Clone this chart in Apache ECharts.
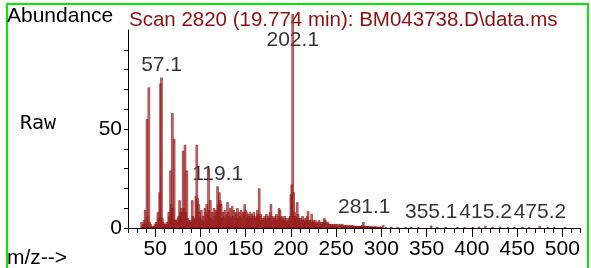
<!DOCTYPE html>
<html>
<head>
<meta charset="utf-8">
<script src="https://cdn.jsdelivr.net/npm/echarts@6/dist/echarts.min.js"></script>
<style>
    html, body { margin: 0; padding: 0; background: #fff; }
    #main { width: 591px; height: 268px; }
</style>
</head>
<body>
<div id="main"></div>
<script>
// m/z 35 .. 300, one abundance value per unit mass
const mzStart = 35;
const abundance = [
    3, 1, 2, 4, 9, 2, 55, 6, 71, 3,            // 35-44
    2, 0.5, 1, 0.5, 1, 2, 3, 2, 8, 5,          // 45-54
    18, 73, 76, 5, 3, 2, 2, 2, 3, 2,           // 55-64
    8, 6, 29, 12, 58, 10, 45, 4, 4, 3,         // 65-74
    5, 6, 14, 8, 10, 8, 39, 10, 42, 8,         // 75-84
    29, 5, 4, 3, 4, 3, 14, 6, 5, 4,            // 85-94
    16, 42, 15, 12, 8, 5, 9, 4, 6, 3,          // 95-104
    10, 8, 12, 7, 30, 9, 14, 5, 8, 4,          // 105-114
    10, 6, 9, 8, 21, 12, 18, 14, 12, 5,        // 115-124
    8, 6, 9, 5, 7, 13, 8, 6, 10, 5,            // 125-134
    11, 6, 9, 5, 8, 7, 10, 5, 8, 6,            // 135-144
    9, 5, 8, 7, 12, 9, 8, 5, 7, 6,             // 145-154
    8, 5, 7, 6, 8, 5, 6, 5, 9, 7,              // 155-164
    20, 6, 7, 4, 5, 4, 6, 5, 7, 4,             // 165-174
    6, 5, 8, 12, 6, 5, 4, 6, 5, 7,             // 175-184
    4, 6, 10, 9, 5, 6, 4, 5, 6, 4,             // 185-194
    5, 3, 4, 5, 6, 17, 22, 108, 18, 8,         // 195-204
    6, 5, 13, 7, 5, 4, 5, 4, 6, 4,             // 205-214
    3, 5, 4, 6, 8.5, 4, 3, 4, 7, 3,            // 215-224
    4, 3, 4, 2, 3, 2, 4, 3, 2, 3,              // 225-234
    2, 3, 5, 4, 3, 2, 3, 2, 2, 1.5,            // 235-244
    2, 1.5, 2, 1, 2, 1.5, 2, 1, 1.5, 2,        // 245-254
    1, 1.5, 2, 1, 1, 1.5, 1, 1.5, 1, 1,        // 255-264
    1.5, 1, 1, 1.5, 1, 1, 0.8, 1, 1, 0.8,      // 265-274
    1, 0.8, 1, 1, 1.5, 3, 1, 0.8, 1, 0.8,      // 275-284
    0.8, 1, 0.6, 0.8, 0.6, 0.8, 0.6, 0.6, 0.8, 0.6, // 285-294
    0.6, 0.5, 0.6, 0.5, 0.6, 0.5               // 295-300
];
// sparse high-mass signal
const hiMz = [302, 305, 311, 318, 327, 333, 341, 355, 362, 371, 384, 392, 401, 408, 415, 423, 431, 440, 447, 456, 463, 475, 484, 491, 503];
const hiAb = [1.5, 0.5, 0.6, 0.5, 0.5, 0.6, 0.5, 1.2, 0.5, 0.4, 0.5, 0.4, 0.5, 0.6, 1, 0.5, 0.6, 0.5, 0.4, 0.5, 0.4, 1, 0.4, 0.5, 0.4];

// labelled peaks
const peakMz = [57.1, 119.1, 202.1, 281.1, 355.1, 415.2, 475.2];
const peakLabelAt = [76, 21, 88.5, 4, 1.5, 1.5, 1.5];

const xMajor = [50, 100, 150, 200, 250, 300, 350, 400, 450, 500];
const yMinor = [0, 10, 20, 30, 40, 50, 60, 70, 80, 90];
const yLabels = [0, 50];

const font = 'Liberation Sans, Arial, sans-serif';
const darkRed = '#8b0f0f';

let bars = abundance.map((v, i) => [mzStart + i, v]);
hiMz.forEach((m, i) => bars.push([m, hiAb[i]]));

let myChart = echarts.init(document.getElementById('main'));
let option = {
    animation: false,
    grid: { left: 128, right: 11, top: 30, bottom: 40 },
    xAxis: [
        {
            type: 'value',
            min: 20,
            max: 519.5,
            interval: 10,
            splitLine: { show: false },
            axisLine: { lineStyle: { color: '#000', width: 1 } },
            axisTick: { length: 5, lineStyle: { color: '#000' } },
            axisLabel: {
                margin: 11,
                color: '#000',
                fontSize: 21,
                fontFamily: font,
                formatter: v => (v % 50 === 0 ? String(v) : '')
            }
        },
        {
            // longer ticks every 50
            type: 'value',
            min: 20,
            max: 519.5,
            position: 'bottom',
            splitLine: { show: false },
            axisLine: { show: false },
            axisLabel: { show: false },
            axisTick: { length: 9, customValues: xMajor, lineStyle: { color: '#000' } }
        }
    ],
    yAxis: {
        type: 'value',
        min: 0,
        max: 100,
        splitLine: { show: false },
        axisLine: { show: true, lineStyle: { color: '#000', width: 1 } },
        axisTick: { show: true, length: 4, customValues: yMinor, lineStyle: { color: '#000' } },
        axisLabel: {
            margin: 6,
            color: '#000',
            fontSize: 21,
            fontFamily: font,
            customValues: yLabels
        }
    },
    series: [
        {
            type: 'scatter',
            z: 1,
            symbolSize: 0,
            data: peakMz.map((m, i) => [m, peakLabelAt[i]]),
            label: {
                show: true,
                position: 'top',
                distance: 2,
                color: '#000',
                fontSize: 21,
                fontFamily: font,
                formatter: p => p.value[0].toFixed(1)
            }
        },
        {
            type: 'bar',
            z: 3,
            clip: false,
            barWidth: 2.4,
            data: bars,
            itemStyle: {
                color: 'rgba(180, 70, 70, 0.75)',
                borderColor: 'rgba(130, 0, 0, 0.9)',
                borderWidth: 0.6
            }
        }
    ],
    graphic: [
        {
            type: 'rect',
            shape: { x: 7, y: 4, width: 581, height: 300 },
            style: { fill: 'none', stroke: '#00ee00', lineWidth: 2 }
        },
        {
            type: 'text', x: 7, y: 16,
            style: { text: 'Abundance', font: '21px ' + font, fill: '#000', verticalAlign: 'middle' }
        },
        {
            type: 'text', x: 129, y: 20,
            style: { text: 'Scan 2820 (19.774 min): BM043738.D\\data.ms', font: '20.5px ' + font, fill: darkRed, verticalAlign: 'middle' }
        },
        {
            type: 'text', x: 20, y: 124,
            style: { text: 'Raw', font: '20px DejaVu Sans Mono, monospace', fill: '#000', verticalAlign: 'middle' }
        },
        {
            type: 'text', x: 7, y: 258,
            style: { text: 'm/z-->', font: '21px ' + font, fill: '#000', verticalAlign: 'middle' }
        }
    ]
};
myChart.setOption(option);
</script>
</body>
</html>
